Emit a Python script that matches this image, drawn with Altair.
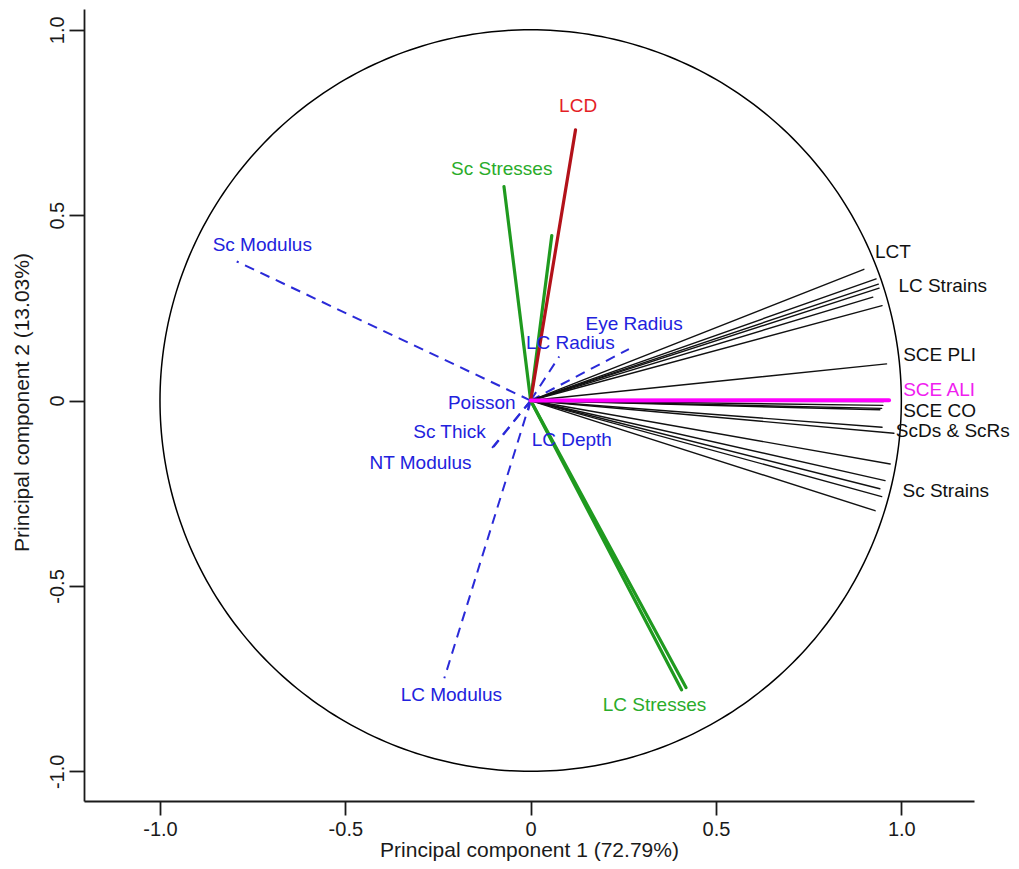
import altair as alt
import pandas as pd

# ---- data (PC1 / PC2 loadings) ----
black_pc1 = [0.899, 0.932, 0.938, 0.940, 0.923, 0.948, 0.960, 0.951, 0.950, 0.947,
             0.942, 0.948, 0.980, 0.970, 0.956, 0.942, 0.947, 0.929]
black_pc2 = [0.354, 0.328, 0.314, 0.303, 0.279, 0.256, 0.099, -0.003, -0.013, -0.021,
             -0.025, -0.072, -0.088, -0.171, -0.216, -0.238, -0.259, -0.297]

green_pc1 = [-0.072, 0.057, 0.407, 0.419]
green_pc2 = [0.577, 0.445, -0.780, -0.774]

red_pc1 = [0.121]
red_pc2 = [0.730]

magenta_pc1 = [0.967]
magenta_pc2 = [0.001]

blue_names = ["Sc Modulus", "Eye Radius", "LC Radius", "Poisson", "Sc Thick",
              "NT Modulus", "LC Depth", "LC Modulus"]
blue_pc1 = [-0.793, 0.265, 0.077, -0.012, -0.100, -0.115, -0.010, -0.233]
blue_pc2 = [0.375, 0.139, 0.119, -0.018, -0.125, -0.141, -0.040, -0.749]

# labels (text, anchor in data units, colour group)
lab_c_text = ["LCD", "Sc Stresses", "LC Stresses", "Sc Modulus", "Eye Radius",
              "LC Radius", "Poisson", "Sc Thick", "NT Modulus", "LC Depth", "LC Modulus"]
lab_c_x = [0.128, -0.078, 0.334, -0.724, 0.279, 0.107, -0.132, -0.219, -0.297, 0.111, -0.214]
lab_c_y = [0.795, 0.624, -0.821, 0.420, 0.207, 0.155, -0.007, -0.084, -0.168, -0.106, -0.794]
lab_c_grp = ["red", "green", "green", "blue", "blue", "blue", "blue", "blue", "blue", "blue", "blue"]

lab_l_text = ["LCT", "LC Strains", "SCE PLI", "SCE ALI", "SCE CO", "ScDs & ScRs", "Sc Strains"]
lab_l_x = [0.929, 0.992, 1.005, 1.005, 1.005, 0.985, 1.003]
lab_l_y = [0.400, 0.308, 0.123, 0.029, -0.027, -0.081, -0.245]
lab_l_grp = ["black", "black", "black", "magenta", "black", "black", "black"]

tick_values = [-1.0, -0.5, 0.0, 0.5, 1.0]
tick_labels = ["-1.0", "-0.5", "0", "0.5", "1.0"]

x_title = "Principal component 1 (72.79%)"
y_title = "Principal component 2 (13.03%)"

# ---- build ----
FONT = "Liberation Sans, Arial, Helvetica, sans-serif"
INK = "#1a1a1a"

label_expr = " : ".join(
    f"abs(datum.value - ({v})) < 1e-6 ? '{t}'" for v, t in zip(tick_values, tick_labels)
) + " : ''"

xs = alt.Scale(domain=[-1.205, 1.196], nice=False, zero=False)
ys = alt.Scale(domain=[-1.080, 1.056], nice=False, zero=False)

common_axis = dict(
    values=tick_values, labelExpr=label_expr, grid=False,
    tickWidth=1.8, tickColor=INK,
    domainColor=INK, domainWidth=1.8,
    labelFont=FONT, labelFontSize=20, labelColor=INK,
    labelFlush=False, labelOverlap=False,
    titleFont=FONT, titleFontSize=21, titleFontWeight="normal", titleColor=INK,
)
x_axis = alt.Axis(title=x_title, titleX=445, titleY=55, titleAlign="center",
                  titleBaseline="alphabetic", tickSize=14, labelPadding=4,
                  **common_axis)
y_axis = alt.Axis(title=y_title, labelAngle=270, labelAlign="center",
                  labelBaseline="alphabetic", tickSize=15, labelPadding=6,
                  titleAngle=270, titleX=-56, titleY=393,
                  titleAlign="center", titleBaseline="alphabetic", **common_axis)


def X(field):
    return alt.X(field, scale=xs, axis=x_axis, title=x_title)


def Y(field):
    return alt.Y(field, scale=ys, axis=y_axis, title=y_title)


text_scale = alt.Scale(domain=["black", "green", "red", "magenta", "blue"],
                       range=["#111111", "#2aac2a", "#e41e26", "#f020f0", "#2222dd"])

circle = alt.Chart(alt.sequence(0, 361, 1, as_="deg")).transform_calculate(
    cx="cos(datum.deg * PI / 180)", cy="sin(datum.deg * PI / 180)"
).mark_line(color="black", strokeWidth=1.5).encode(
    x=X("cx:Q"), y=Y("cy:Q"), order="deg:Q",
)


def rules(pc1, pc2, color, width, dash=None, cap="round"):
    df = pd.DataFrame({"pc1": pc1, "pc2": pc2})
    kw = dict(color=color, strokeWidth=width, strokeCap=cap)
    if dash:
        kw["strokeDash"] = dash
    return alt.Chart(df).transform_calculate(x0="0", y0="0").mark_rule(**kw).encode(
        x=X("x0:Q"), y=Y("y0:Q"), x2="pc1:Q", y2="pc2:Q",
    )


blue_lines = rules(blue_pc1, blue_pc2, "#2a2ad8", 2, dash=[10, 7], cap="butt")
black_lines = rules(black_pc1, black_pc2, "#111111", 1.4)
green_lines = rules(green_pc1, green_pc2, "#1f9a1f", 3.2)
red_lines = rules(red_pc1, red_pc2, "#b3121a", 3.2)
magenta_lines = rules(magenta_pc1, magenta_pc2, "#ff00ff", 4)

df_c = pd.DataFrame({"t": lab_c_text, "x": lab_c_x, "y": lab_c_y, "g": lab_c_grp})
df_l = pd.DataFrame({"t": lab_l_text, "x": lab_l_x, "y": lab_l_y, "g": lab_l_grp})

text_c = alt.Chart(df_c).mark_text(align="center", baseline="middle", font=FONT,
                                   fontSize=19).encode(
    x=X("x:Q"), y=Y("y:Q"),
    text="t:N", color=alt.Color("g:N", scale=text_scale, legend=None))
text_l = alt.Chart(df_l).mark_text(align="left", baseline="middle", font=FONT,
                                   fontSize=19).encode(
    x=X("x:Q"), y=Y("y:Q"),
    text="t:N", color=alt.Color("g:N", scale=text_scale, legend=None))

chart = alt.layer(
    circle, blue_lines, black_lines, green_lines, red_lines, magenta_lines, text_c, text_l
).properties(
    width=890, height=792,
    autosize=alt.AutoSizeParams(type="none"),
    padding={"left": 76, "top": 1, "right": 37, "bottom": 60},
).configure_view(stroke=None)

chart.save("out.html", embed_options={"renderer": "svg", "actions": False})
